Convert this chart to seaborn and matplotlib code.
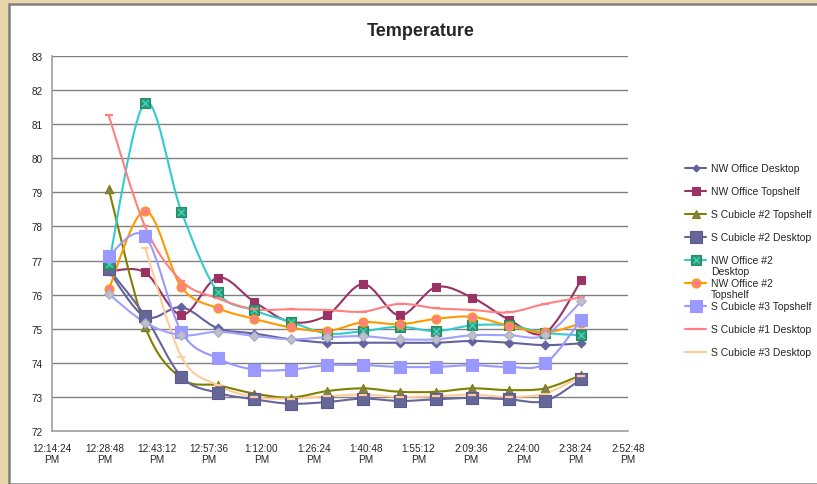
import numpy as np
import matplotlib
matplotlib.use("Agg")
import matplotlib.pyplot as plt
import seaborn as sns
from matplotlib.path import Path
from matplotlib.patches import PathPatch, Rectangle
from matplotlib.lines import Line2D

# readings, minutes after 12:00 PM
time_min = [30, 40, 50, 60, 70, 80, 90, 100, 110, 120, 130, 140, 150, 160]

nw_office_desktop = [76.70, 75.35, 75.63, 75.01, 74.86, 74.69, 74.59, 74.59, 74.59, 74.59, 74.64, 74.59, 74.52, 74.57]
nw_office_topshelf = [76.68, 76.65, 75.40, 76.50, 75.79, 75.20, 75.39, 76.31, 75.39, 76.22, 75.91, 75.27, 74.88, 76.43]
s_cub2_topshelf = [79.10, 75.06, 73.54, 73.34, 73.10, 72.98, 73.17, 73.25, 73.15, 73.15, 73.25, 73.20, 73.25, 73.64]
s_cub2_desktop = [76.75, 75.37, 73.59, 73.12, 72.93, 72.80, 72.85, 72.95, 72.88, 72.93, 72.97, 72.93, 72.88, 73.52]
nw_office2_desktop = [76.89, 81.63, 78.43, 76.07, 75.54, 75.20, 74.86, 74.93, 75.06, 74.93, 75.10, 75.10, 74.88, 74.81]
nw_office2_topshelf = [76.16, 78.46, 76.22, 75.60, 75.29, 75.04, 74.93, 75.19, 75.13, 75.29, 75.35, 75.09, 74.89, 75.16]
s_cub3_topshelf = [77.14, 77.71, 74.91, 74.13, 73.80, 73.80, 73.93, 73.93, 73.88, 73.88, 73.93, 73.88, 73.98, 75.27]
s_cub1_desktop = [81.26, 78.00, 76.40, 75.89, 75.57, 75.57, 75.55, 75.50, 75.73, 75.60, 75.55, 75.48, 75.73, 75.92]
s_cub3_desktop = [np.nan, 77.38, 74.18, 73.34, 73.00, 72.95, 73.02, 73.07, 73.00, 73.02, 73.07, 73.00, 73.10, 73.61]
unlisted_sensor = [76.02, 75.18, 74.81, 74.91, 74.79, 74.69, 74.75, 74.78, 74.69, 74.69, 74.81, 74.81, 74.81, 75.81]

# (label, values, line colour, marker, marker face, marker edge, marker size, in legend)
series = [
    ("NW Office Desktop", nw_office_desktop, "#62629c", "D", "#62629c", "#62629c", 20, True),
    ("NW Office Topshelf", nw_office_topshelf, "#993366", "s", "#993366", "#993366", 34, True),
    ("S Cubicle #2 Topshelf", s_cub2_topshelf, "#808000", "^", "#7f7f60", "#808000", 36, True),
    ("S Cubicle #2 Desktop", s_cub2_desktop, "#666699", "s", "#666699", "#5a5a8c", 66, True),
    ("NW Office #2\nDesktop", nw_office2_desktop, "#33cccc", "s", "#2e9a70", "#2b8a66", 54, True),
    ("NW Office #2\nTopshelf", nw_office2_topshelf, "#ff9900", "o", "#ff8080", "#ff9900", 42, True),
    ("S Cubicle #3 Topshelf", s_cub3_topshelf, "#9999ff", "s", "#9999ff", "#9999ff", 66, True),
    ("S Cubicle #1 Desktop", s_cub1_desktop, "#ff8080", "_", "#ff8080", "#ff8080", 30, True),
    ("S Cubicle #3 Desktop", s_cub3_desktop, "#ffcc99", "_", "#ffcc99", "#ffcc99", 30, True),
    ("unlisted", unlisted_sensor, "#a0a0ff", "D", "#c0c0c0", "#a8a8d8", 24, False),
]

sns.set_style("white")
plt.rcParams["font.family"] = ["Liberation Sans", "DejaVu Sans"]

fig = plt.figure(figsize=(8.17, 4.85), dpi=100, facecolor="#e8d6ad")

# white chart panel with grey edge
fig.add_artist(Rectangle((9 / 817, 0), 1, 1 - 5 / 485, transform=fig.transFigure,
                         facecolor="white", edgecolor="#808080", lw=1.8, zorder=0))

ax = fig.add_axes([52 / 817, 1 - 432 / 485, (628 - 52) / 817, (432 - 57) / 485])
ax.set_facecolor("none")


def smooth_path(xs, ys):
    # Excel-like smoothed line: Catmull-Rom segments as cubic Bezier
    pts = np.column_stack([xs, ys])
    n = len(pts)
    verts = [pts[0]]
    codes = [Path.MOVETO]
    for i in range(n - 1):
        p0 = pts[max(i - 1, 0)]
        p1 = pts[i]
        p2 = pts[i + 1]
        p3 = pts[min(i + 2, n - 1)]
        verts += [p1 + (p2 - p0) / 6, p2 - (p3 - p1) / 6, p2]
        codes += [Path.CURVE4] * 3
    return Path(verts, codes)


x_arr = np.array(time_min, dtype=float)
for k, (label, vals, lc, mk, mf, me, ms, _) in enumerate(series):
    y_arr = np.array(vals, dtype=float)
    ok = ~np.isnan(y_arr)
    ax.add_patch(PathPatch(smooth_path(x_arr[ok], y_arr[ok]), fill=False,
                           edgecolor=lc, lw=1.5, zorder=2 + k * 0.01))

for k, (label, vals, lc, mk, mf, me, ms, _) in enumerate(series):
    y_arr = np.array(vals, dtype=float)
    ok = ~np.isnan(y_arr)
    if mk == "_":
        sns.scatterplot(x=x_arr[ok], y=y_arr[ok], marker=mk, s=ms, color=mf,
                        linewidth=1.6, ax=ax, zorder=3 + k * 0.01)
    else:
        sns.scatterplot(x=x_arr[ok], y=y_arr[ok], marker=mk, s=ms, color=mf,
                        edgecolor=me, linewidth=0.8, ax=ax, zorder=3 + k * 0.01)
    if label.startswith("NW Office #2\nDesktop"):
        sns.scatterplot(x=x_arr[ok], y=y_arr[ok], marker="x", s=22, color="#40d8d0",
                        linewidth=0.9, ax=ax, zorder=3.005 + k * 0.01)

# axes styling
tick_pos = [14.4 * k for k in range(1, 13)]


def fmt_time(m):
    s = int(round(m * 60))
    h, r = divmod(s, 3600)
    mm, ss = divmod(r, 60)
    h = h if h > 0 else 12
    return f"{h}:{mm:02d}:{ss:02d}\nPM"


ax.set_xlim(14.4, 172.8)
ax.set_ylim(72, 83)
ax.set_xticks(tick_pos)
ax.set_xticklabels([fmt_time(t) for t in tick_pos], fontsize=7.2, linespacing=1.1)
ax.set_yticks(range(72, 84))
ax.set_yticklabels([str(v) for v in range(72, 84)], fontsize=7.2)
ax.tick_params(axis="both", direction="out", length=4, width=1, color="#808080", pad=3)
ax.tick_params(axis="x", pad=5)
ax.grid(axis="y", color="#808080", lw=1)
ax.set_axisbelow(True)
for side in ["top", "right"]:
    ax.spines[side].set_visible(False)
for side in ["left", "bottom"]:
    ax.spines[side].set_color("#a0a0a0")
    ax.spines[side].set_linewidth(1.2)
ax.set_xlabel("")
ax.set_ylabel("")

fig.text(421 / 817, 1 - 31 / 485, "Temperature", ha="center", va="center",
         fontsize=13, fontweight="bold")

# legend drawn Excel-style with fixed row spacing; wrapped labels spill downward
row_y = 169
for label, vals, lc, mk, mf, me, ms, show in series:
    if not show:
        continue
    yf = 1 - row_y / 485
    fig.add_artist(Line2D([685 / 817, 706 / 817], [yf, yf], color=lc, lw=1.5,
                          transform=fig.transFigure))
    msz = np.sqrt(ms)
    if mk == "_":
        fig.add_artist(Line2D([695.5 / 817], [yf], marker=mk, ms=msz, mew=1.6, color=mf,
                              ls="none", transform=fig.transFigure))
    else:
        fig.add_artist(Line2D([695.5 / 817], [yf], marker=mk, ms=msz * (0.8 if mk == "D" else 1),
                              mfc=mf, mec=me, mew=0.8, ls="none", transform=fig.transFigure))
    if label.startswith("NW Office #2\nDesktop"):
        fig.add_artist(Line2D([695.5 / 817], [yf], marker="x", ms=4.5, mew=0.9, color="#40d8d0",
                              ls="none", transform=fig.transFigure))
    for j, part in enumerate(label.split("\n")):
        fig.text(711 / 817, 1 - (row_y + 11 * j) / 485, part, ha="left", va="center",
                 fontsize=7.5)
    row_y += 23

plt.savefig("out.png", dpi=100, facecolor=fig.get_facecolor())
